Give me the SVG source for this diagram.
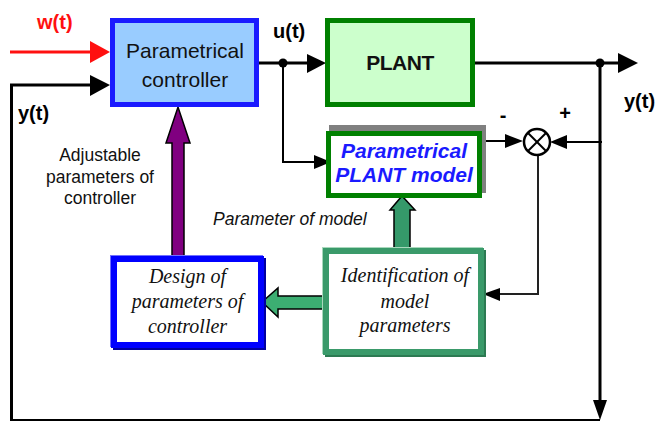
<svg xmlns="http://www.w3.org/2000/svg" width="660" height="421" viewBox="0 0 660 421">
  <style>
    .sig { font-family: "Liberation Sans", Arial, sans-serif; font-weight: bold; font-size: 20px; fill: #000; }
    .lbl { font-family: "Liberation Sans", Arial, sans-serif; font-size: 17.5px; fill: #111; }
    .box { font-family: "Liberation Sans", Arial, sans-serif; font-size: 21px; fill: #111; text-anchor: middle; }
    .ser { font-family: "Liberation Serif", "Times New Roman", serif; font-style: italic; font-size: 20px; fill: #111; text-anchor: middle; }
    .wire { fill: none; stroke: #000; stroke-width: 3; }
    .thin { fill: none; stroke: #000; stroke-width: 2; }
    .head { fill: #000; }
  </style>

  <rect width="660" height="421" fill="#fff"/>

  <!-- signal lines -->
  <g id="connectors">
    <!-- reference input w(t) -->
    <line x1="10" y1="52" x2="93" y2="52" stroke="#ff1010" stroke-width="3"/>
    <polygon points="90,41 110,52 90,63" fill="#ff1010"/>

    <!-- fed-back y(t) into controller -->
    <polyline class="wire" points="11.5,421 11.5,85 93,85" stroke-width="3.5"/>
    <polygon class="head" points="90,75 110,85 90,96"/>

    <!-- u(t): controller to plant -->
    <line class="wire" x1="259" y1="63" x2="309" y2="63"/>
    <polygon class="head" points="307,54 326,63 307,73"/>
    <circle cx="283" cy="63" r="4.5" fill="#000"/>

    <!-- u(t) branch to plant model -->
    <polyline class="thin" points="283,63 283,162 318,162"/>
    <polygon class="head" points="314,155 331,162 314,169"/>

    <!-- plant output y(t) -->
    <line class="wire" x1="475" y1="63" x2="620" y2="63"/>
    <polygon class="head" points="618,53 638,63 618,73"/>
    <circle cx="600" cy="63" r="4.5" fill="#000"/>

    <!-- y(t) down and back along the bottom -->
    <line class="wire" x1="600" y1="63" x2="600" y2="403"/>
    <polygon class="head" points="593,400 600,420 607,400"/>
    <line x1="10" y1="420" x2="600" y2="420" stroke="#000" stroke-width="2"/>

    <!-- model output into comparator -->
    <line class="thin" x1="482" y1="141" x2="508" y2="141"/>
    <polygon class="head" points="505,134 523,141 505,148"/>

    <!-- plant output into comparator -->
    <line class="thin" x1="602" y1="142" x2="564" y2="142"/>
    <polygon class="head" points="567,135 550,142 567,149"/>

    <!-- error to identification -->
    <polyline points="538,155 538,294 497,294" fill="none" stroke="#222" stroke-width="2"/>
    <polygon class="head" points="500,288 483,294 500,301"/>

    <!-- adjustable parameters of controller -->
    <polygon points="172,260 172,143 166,143 178,107 190,143 184,143 184,260" fill="#800080" stroke="#000" stroke-width="1.5"/>

    <!-- parameter of model -->
    <polygon points="394,252 394,210 390,210 402,196 415,210 410,210 410,252" fill="#35996a" stroke="#000" stroke-width="1.5"/>

    <!-- identified parameters to controller design -->
    <polygon points="330,296 278,296 278,288 262,302 278,317 278,309 330,309" fill="#3cae72" stroke="#000" stroke-width="1.5"/>
  </g>

  <!-- comparator -->
  <g id="comparator">
    <circle cx="537" cy="142" r="13" fill="#fff" stroke="#000" stroke-width="2.5"/>
    <line x1="528" y1="133" x2="546" y2="151" stroke="#000" stroke-width="2"/>
    <line x1="546" y1="133" x2="528" y2="151" stroke="#000" stroke-width="2"/>
    <text class="sig" x="503" y="122" font-size="18" text-anchor="middle">-</text>
    <text class="sig" x="565" y="120" font-size="18" text-anchor="middle">+</text>
  </g>

  <!-- controller -->
  <g id="controller">
    <rect x="112.5" y="20.5" width="144" height="84" fill="#99ccff" stroke="#1a1aff" stroke-width="5"/>
    <text class="box" x="185" y="58">Parametrical</text>
    <text class="box" x="185" y="87">controller</text>
  </g>

  <!-- plant -->
  <g id="plant">
    <rect x="327.5" y="20.5" width="145" height="84" fill="#ccffcc" stroke="#008000" stroke-width="5"/>
    <text class="box" x="400" y="70" font-weight="bold" font-size="20" letter-spacing="-0.5">PLANT</text>
  </g>

  <!-- plant model -->
  <g id="plant-model">
    <rect x="329" y="125" width="157" height="68" fill="#808080"/>
    <rect x="328.5" y="133.5" width="151" height="62" fill="#fff" stroke="#008000" stroke-width="5"/>
    <text class="box" x="404" y="158" font-weight="bold" font-style="italic" font-size="20" style="fill:#1a1aff">Parametrical</text>
    <text class="box" x="404" y="182" font-weight="bold" font-style="italic" font-size="20" style="fill:#1a1aff">PLANT model</text>
  </g>

  <!-- controller design -->
  <g id="design">
    <rect x="113" y="258" width="147" height="86" fill="none" stroke="#7070ff" stroke-width="6"/>
    <rect x="116" y="261" width="147" height="86" fill="none" stroke="#0000a0" stroke-width="6"/>
    <rect x="114" y="259" width="147" height="86" fill="#fff" stroke="#0000ff" stroke-width="6"/>
    <text class="ser" x="187.5" y="283">Design of</text>
    <text class="ser" x="187.5" y="308">parameters of</text>
    <text class="ser" x="187.5" y="333">controller</text>
  </g>

  <!-- identification -->
  <g id="identification">
    <rect x="325" y="250" width="155" height="101" fill="none" stroke="#a8d8bc" stroke-width="6"/>
    <rect x="328" y="253" width="155" height="101" fill="none" stroke="#2c7a52" stroke-width="6"/>
    <rect x="326" y="251" width="155" height="101" fill="#fff" stroke="#3a9a6a" stroke-width="6"/>
    <text class="ser" x="405" y="282">Identification of</text>
    <text class="ser" x="405" y="308">model</text>
    <text class="ser" x="405" y="332">parameters</text>
  </g>

  <!-- signal and flow labels -->
  <g id="labels">
    <text class="sig" x="37" y="29" font-size="21" style="fill:#ff1010">w(t)</text>
    <text class="sig" x="18" y="120">y(t)</text>
    <text class="sig" x="273" y="38">u(t)</text>
    <text class="sig" x="624" y="108">y(t)</text>
    <text class="lbl" x="100" y="161" text-anchor="middle">Adjustable</text>
    <text class="lbl" x="100" y="183" text-anchor="middle">parameters of</text>
    <text class="lbl" x="100" y="204" text-anchor="middle">controller</text>
    <text class="lbl" x="213" y="225" font-style="italic">Parameter of model</text>
  </g>
</svg>
